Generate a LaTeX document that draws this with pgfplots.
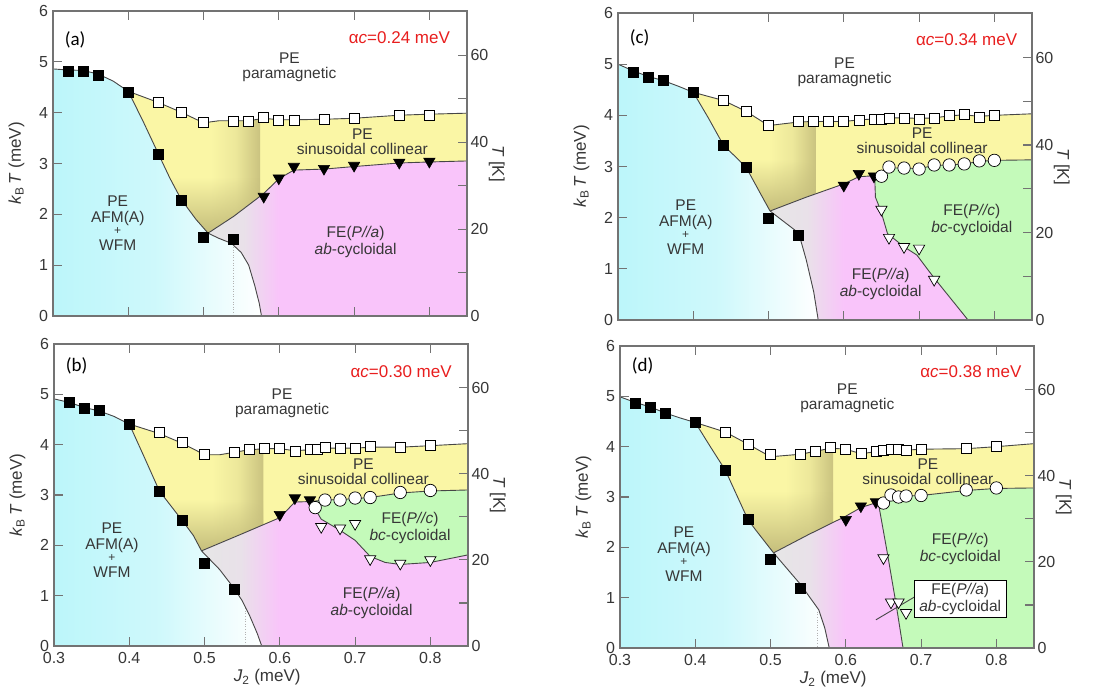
\documentclass[border=0pt]{standalone}
\usepackage{fontspec}
\setmainfont{Liberation Sans}
\newfontfamily\carl{Carlito}
\usepackage{pgfplots}
\pgfplotsset{compat=1.18}
\usetikzlibrary{fadings}
\definecolor{cyanC}{RGB}{188,246,250}
\definecolor{yelC}{RGB}{250,246,165}
\definecolor{oliveC}{RGB}{190,182,118}
\definecolor{pinkC}{RGB}{249,196,250}
\definecolor{greenC}{RGB}{196,250,186}
\definecolor{grayC}{RGB}{230,230,230}
\definecolor{lineC}{RGB}{70,70,70}
\definecolor{axisC}{RGB}{115,115,115}
\definecolor{textC}{RGB}{55,55,55}
\definecolor{redC}{RGB}{232,30,30}
\newcommand{\fr}{\fontsize{15.5}{15}\selectfont}
\newcommand{\ff}{\fontsize{15.5}{17}\selectfont}
\newcommand{\fl}{\fontsize{17}{20}\selectfont}
\pgfplotsset{
  base/.style={scale only axis, width=414pt, xmin=0.3, xmax=0.85, axis on top,
    axis line style={draw=axisC, line width=1.1pt, -}, tick style={draw=axisC, line width=1.1pt},
    major tick length=9pt, tick align=inside,
    tick label style={font=\fontsize{16}{18}\selectfont, text=textC},
    /pgf/number format/assume math mode=true},
  mainax/.style={base, ymin=0, ymax=6, ytick={0,1,2,3,4,5,6}, xtick={0.3,0.4,0.5,0.6,0.7,0.8},
    ytick pos=left, ylabel={\textit{k}\textsubscript{B}\,\textit{T} (meV)},
    xticklabel style={yshift=-2.5pt}, yticklabel style={xshift=-1.5pt},
    every axis y label/.style={at={(axis description cs:-0.088,0.5)}, rotate=90, anchor=center, font=\fl, text=textC},
    every axis x label/.style={at={(axis description cs:0.515,-0.103)}, anchor=center, font=\fl, text=textC}},
  rightax/.style={base, ymin=0, ymax=70.18, axis x line=none, axis y line*=right,
    ytick={0,10,...,60}, yticklabels={0,,20,,40,,60}, ylabel={\textit{T} [K]},
    every axis y label/.style={at={(axis description cs:1.072,0.5)}, rotate=-90, anchor=center, font=\fl, text=textC}},
  bline/.style={lineC, line width=0.9pt, mark=none},
  fs/.style={only marks, mark=square*, mark size=5pt, mark options={draw=black, fill=black, line width=0.6pt}},
  os/.style={only marks, mark=square*, mark size=5pt, mark options={draw=black, fill=white, line width=0.7pt}},
  ft/.style={only marks, mark=triangle*, mark size=6.5pt, mark options={rotate=180, draw=black, fill=black, line width=0.6pt}},
  ot/.style={only marks, mark=triangle*, mark size=6.5pt, mark options={rotate=180, draw=black, fill=white, line width=0.7pt}},
  oc/.style={only marks, mark=*, mark size=6.2pt, mark options={draw=black, fill=white, line width=0.7pt}},
  cyanfill/.style={draw=none, mark=none, left color=cyanC, right color=white, middle color=cyanC!72!white},
  bandfill/.style={draw=none, mark=none, left color=yelC, right color=oliveC!80!yelC, middle color=yelC!78!oliveC},
  fadefill/.style={draw=none, mark=none, fill=oliveC!88!yelC, path fading=north},
  grayfill/.style={draw=none, mark=none, left color=grayC, right color=pinkC, middle color=grayC!85!pinkC},
}
\begin{document}
\begin{tikzpicture}
\path[use as bounding box] (0pt,0pt) rectangle (1102pt,-692pt);
%================ (a)
\begin{axis}[mainax, height=305pt, at={(53pt,-316pt)}, anchor=south west, xticklabels={}]
\addplot[cyanfill] coordinates {(0.30,0)(0.30,4.86)(0.32,4.84)(0.34,4.83)(0.36,4.76)(0.38,4.62)(0.40,4.42)(0.42,3.82)(0.44,3.19)(0.455,2.72)(0.47,2.30)(0.49,1.90)(0.506,1.63)(0.52,1.53)(0.537,1.43)(0.55,1.25)(0.56,1.00)(0.568,0.60)(0.574,0.25)(0.577,0)};
\addplot[draw=none, fill=yelC] coordinates {(0.40,4.42)(0.44,4.20)(0.47,4.01)(0.50,3.80)(0.52,3.84)(0.54,3.84)(0.56,3.84)(0.58,3.89)(0.60,3.86)(0.62,3.86)(0.66,3.87)(0.70,3.89)(0.76,3.95)(0.80,3.97)(0.85,3.99)(0.85,3.05)(0.80,3.03)(0.76,3.01)(0.70,2.94)(0.66,2.89)(0.62,2.87)(0.60,2.70)(0.58,2.41)(0.54,1.96)(0.506,1.63)(0.49,1.90)(0.47,2.30)(0.455,2.72)(0.44,3.19)(0.42,3.82)};
\addplot[bandfill] coordinates {(0.51,3.82)(0.52,3.84)(0.54,3.84)(0.56,3.84)(0.575,3.875)(0.575,2.354)(0.54,1.96)(0.51,1.669)};
\addplot[fadefill] coordinates {(0.455,2.72)(0.47,2.30)(0.49,1.90)(0.506,1.63)(0.54,1.96)(0.575,2.354)(0.575,2.72)};
\addplot[draw=none, fill=pinkC] coordinates {(0.506,1.63)(0.54,1.96)(0.58,2.41)(0.60,2.70)(0.62,2.87)(0.66,2.89)(0.70,2.94)(0.76,3.01)(0.80,3.03)(0.85,3.05)(0.85,0)(0.577,0)(0.574,0.25)(0.568,0.60)(0.56,1.00)(0.55,1.25)(0.537,1.43)(0.52,1.53)};
\addplot[grayfill] coordinates {(0.506,1.63)(0.54,1.96)(0.58,2.41)(0.60,2.70)(0.60,0)(0.577,0)(0.574,0.25)(0.568,0.60)(0.56,1.00)(0.55,1.25)(0.537,1.43)(0.52,1.53)};
\addplot[gray!60, dotted, line width=0.6pt, mark=none] coordinates {(0.54,1.41)(0.54,0)};
\addplot[bline] coordinates {(0.30,4.86)(0.32,4.84)(0.34,4.83)(0.36,4.76)(0.38,4.62)(0.40,4.42)(0.44,4.20)(0.47,4.01)(0.50,3.80)(0.52,3.84)(0.54,3.84)(0.56,3.84)(0.58,3.89)(0.60,3.86)(0.62,3.86)(0.66,3.87)(0.70,3.89)(0.76,3.95)(0.80,3.97)(0.85,3.99)};
\addplot[bline] coordinates {(0.40,4.42)(0.42,3.82)(0.44,3.19)(0.455,2.72)(0.47,2.30)(0.49,1.90)(0.506,1.63)};
\addplot[bline] coordinates {(0.506,1.63)(0.54,1.96)(0.58,2.41)(0.60,2.70)(0.62,2.87)(0.66,2.89)(0.70,2.94)(0.76,3.01)(0.80,3.03)(0.85,3.05)};
\addplot[bline] coordinates {(0.506,1.63)(0.52,1.53)(0.537,1.43)(0.55,1.25)(0.56,1.00)(0.568,0.60)(0.574,0.25)(0.577,0)};
\addplot[fs] coordinates {(0.32,4.82)(0.34,4.82)(0.36,4.73)(0.40,4.41)(0.44,3.19)(0.47,2.28)(0.50,1.54)(0.54,1.51)};
\addplot[os] coordinates {(0.44,4.20)(0.47,4.01)(0.50,3.81)(0.54,3.82)(0.56,3.82)(0.58,3.91)(0.60,3.84)(0.62,3.84)(0.66,3.87)(0.70,3.89)(0.76,3.95)(0.80,3.95)};
\addplot[ft] coordinates {(0.58,2.35)(0.60,2.71)(0.62,2.94)(0.66,2.90)(0.70,2.96)(0.76,3.02)(0.80,3.04)};
\node[anchor=west, font=\carl\fontsize{19}{20}\selectfont] at (axis cs:0.311,5.43) {(a)};
\node[anchor=east, font=\fl, text=redC] at (axis cs:0.832,5.48) {α\textit{c}=0.24 meV};
\node[align=center, font=\fr, text=textC] at (axis cs:0.614,4.90) {PE\\paramagnetic};
\node[align=center, font=\fr, text=textC] at (axis cs:0.711,3.43) {PE\\sinusoidal collinear};
\node[align=center, font=\ff, text=textC] at (axis cs:0.386,1.82) {PE\\[-1pt]AFM(A)\\[-5pt]{\fontsize{12}{12}\selectfont +}\\[-1pt]WFM};
\node[align=center, font=\ff, text=textC] at (axis cs:0.702,1.46) {FE(\textit{P//a})\\\textit{ab}-cycloidal};
\end{axis}
\begin{axis}[rightax, height=305pt, at={(53pt,-316pt)}, anchor=south west]
\end{axis}
%================ (b)
\begin{axis}[mainax, height=302pt, at={(54pt,-646pt)}, anchor=south west, xlabel={\textit{J}\textsubscript{2} (meV)}]
\addplot[cyanfill] coordinates {(0.30,0)(0.30,4.91)(0.32,4.84)(0.34,4.74)(0.36,4.67)(0.38,4.56)(0.40,4.41)(0.42,3.75)(0.44,3.08)(0.47,2.50)(0.485,2.20)(0.496,1.89)(0.52,1.52)(0.54,1.13)(0.55,0.90)(0.56,0.60)(0.57,0.25)(0.576,0)};
\addplot[draw=none, fill=yelC] coordinates {(0.40,4.41)(0.44,4.22)(0.47,4.03)(0.50,3.80)(0.52,3.80)(0.54,3.85)(0.56,3.90)(0.58,3.92)(0.60,3.92)(0.62,3.88)(0.64,3.90)(0.66,3.93)(0.70,3.93)(0.72,3.95)(0.76,3.95)(0.80,3.98)(0.85,4.02)(0.85,3.10)(0.80,3.08)(0.76,3.04)(0.72,2.95)(0.70,2.93)(0.68,2.91)(0.66,2.90)(0.64,2.87)(0.62,2.86)(0.60,2.55)(0.55,2.23)(0.496,1.89)(0.485,2.20)(0.47,2.50)(0.44,3.08)(0.42,3.75)};
\addplot[bandfill] coordinates {(0.51,3.80)(0.52,3.80)(0.54,3.85)(0.56,3.90)(0.578,3.918)(0.578,2.409)(0.55,2.23)(0.51,1.978)};
\addplot[fadefill] coordinates {(0.449,2.9)(0.47,2.50)(0.485,2.20)(0.496,1.89)(0.55,2.23)(0.578,2.409)(0.578,2.9)};
\addplot[draw=none, fill=pinkC] coordinates {(0.496,1.89)(0.55,2.23)(0.60,2.55)(0.62,2.86)(0.64,2.87)(0.647,2.72)(0.655,2.52)(0.68,2.30)(0.70,2.10)(0.72,1.78)(0.74,1.66)(0.76,1.62)(0.80,1.66)(0.85,1.81)(0.85,0)(0.576,0)(0.57,0.25)(0.56,0.60)(0.55,0.90)(0.54,1.13)(0.52,1.52)};
\addplot[draw=none, fill=greenC] coordinates {(0.64,2.87)(0.66,2.90)(0.68,2.91)(0.70,2.93)(0.72,2.95)(0.76,3.04)(0.80,3.08)(0.85,3.10)(0.85,1.81)(0.80,1.66)(0.76,1.62)(0.74,1.66)(0.72,1.78)(0.70,2.10)(0.68,2.30)(0.655,2.52)(0.647,2.72)};
\addplot[grayfill] coordinates {(0.496,1.89)(0.55,2.23)(0.60,2.55)(0.60,0)(0.576,0)(0.57,0.25)(0.56,0.60)(0.55,0.90)(0.54,1.13)(0.52,1.52)};
\addplot[gray!60, dotted, line width=0.6pt, mark=none] coordinates {(0.554,0.75)(0.554,0)};
\addplot[bline] coordinates {(0.30,4.91)(0.32,4.84)(0.34,4.74)(0.36,4.67)(0.38,4.56)(0.40,4.41)(0.44,4.22)(0.47,4.03)(0.50,3.80)(0.52,3.80)(0.54,3.85)(0.56,3.90)(0.58,3.92)(0.60,3.92)(0.62,3.88)(0.64,3.90)(0.66,3.93)(0.70,3.93)(0.72,3.95)(0.76,3.95)(0.80,3.98)(0.85,4.02)};
\addplot[bline] coordinates {(0.40,4.41)(0.42,3.75)(0.44,3.08)(0.47,2.50)(0.485,2.20)(0.496,1.89)};
\addplot[bline] coordinates {(0.496,1.89)(0.55,2.23)(0.60,2.55)(0.62,2.86)(0.64,2.87)(0.66,2.90)(0.68,2.91)(0.70,2.93)(0.72,2.95)(0.76,3.04)(0.80,3.08)(0.85,3.10)};
\addplot[bline] coordinates {(0.64,2.87)(0.647,2.72)(0.655,2.52)(0.68,2.30)(0.70,2.10)(0.72,1.78)(0.74,1.66)(0.76,1.62)(0.80,1.66)(0.85,1.81)};
\addplot[bline] coordinates {(0.496,1.89)(0.52,1.52)(0.54,1.13)(0.55,0.90)(0.56,0.60)(0.57,0.25)(0.576,0)};
\addplot[fs] coordinates {(0.32,4.84)(0.34,4.73)(0.36,4.68)(0.40,4.41)(0.44,3.08)(0.47,2.50)(0.50,1.64)(0.54,1.13)};
\addplot[os] coordinates {(0.44,4.25)(0.47,4.05)(0.50,3.80)(0.54,3.85)(0.56,3.91)(0.58,3.93)(0.60,3.93)(0.62,3.87)(0.64,3.90)(0.65,3.91)(0.66,3.95)(0.68,3.92)(0.70,3.93)(0.72,3.96)(0.76,3.95)(0.80,3.98)};
\addplot[ft] coordinates {(0.60,2.61)(0.62,2.94)(0.64,2.90)};
\addplot[ot] coordinates {(0.655,2.37)(0.68,2.34)(0.70,2.43)(0.72,1.73)(0.76,1.64)(0.80,1.71)};
\addplot[oc] coordinates {(0.647,2.75)(0.66,2.90)(0.68,2.90)(0.70,2.94)(0.72,2.95)(0.76,3.05)(0.80,3.09)};
\node[anchor=west, font=\carl\fontsize{19}{20}\selectfont] at (axis cs:0.311,5.56) {(b)};
\node[anchor=east, font=\fl, text=redC] at (axis cs:0.833,5.46) {α\textit{c}=0.30 meV};
\node[align=center, font=\fr, text=textC] at (axis cs:0.603,4.83) {PE\\paramagnetic};
\node[align=center, font=\fr, text=textC] at (axis cs:0.711,3.47) {PE\\sinusoidal collinear};
\node[align=center, font=\ff, text=textC] at (axis cs:0.377,1.91) {PE\\[-1pt]AFM(A)\\[-5pt]{\fontsize{12}{12}\selectfont +}\\[-1pt]WFM};
\node[align=center, font=\ff, text=textC] at (axis cs:0.773,2.34) {FE(\textit{P//c})\\\textit{bc}-cycloidal};
\node[align=center, font=\ff, text=textC] at (axis cs:0.722,0.85) {FE(\textit{P//a})\\\textit{ab}-cycloidal};
\end{axis}
\begin{axis}[rightax, height=302pt, at={(54pt,-646pt)}, anchor=south west]
\end{axis}
%================ (c)
\begin{axis}[mainax, height=307pt, at={(618pt,-320pt)}, anchor=south west, xticklabels={}]
\addplot[cyanfill] coordinates {(0.30,0)(0.30,5.00)(0.32,4.87)(0.34,4.76)(0.36,4.68)(0.38,4.57)(0.40,4.45)(0.42,3.95)(0.44,3.42)(0.47,2.99)(0.49,2.45)(0.502,2.13)(0.54,1.70)(0.55,1.18)(0.56,0.55)(0.566,0)};
\addplot[draw=none, fill=yelC] coordinates {(0.40,4.45)(0.44,4.29)(0.47,4.08)(0.50,3.80)(0.54,3.87)(0.56,3.88)(0.58,3.88)(0.60,3.88)(0.62,3.91)(0.64,3.93)(0.66,3.95)(0.68,3.95)(0.70,3.94)(0.72,3.95)(0.74,3.99)(0.76,4.01)(0.78,3.98)(0.80,4.00)(0.85,4.03)(0.85,3.13)(0.80,3.12)(0.78,3.10)(0.76,3.05)(0.74,3.03)(0.72,3.02)(0.70,2.96)(0.68,2.97)(0.66,2.97)(0.65,2.86)(0.641,2.82)(0.62,2.80)(0.60,2.66)(0.55,2.40)(0.502,2.13)(0.49,2.45)(0.47,2.99)(0.44,3.42)(0.42,3.95)};
\addplot[bandfill] coordinates {(0.50,3.80)(0.54,3.87)(0.56,3.88)(0.563,3.88)(0.563,2.468)(0.55,2.40)(0.502,2.13)(0.50,2.183)};
\addplot[fadefill] coordinates {(0.46,3.13)(0.47,2.99)(0.49,2.45)(0.502,2.13)(0.55,2.40)(0.563,2.468)(0.563,3.13)};
\addplot[draw=none, fill=pinkC] coordinates {(0.502,2.13)(0.55,2.40)(0.60,2.66)(0.62,2.80)(0.641,2.82)(0.642,2.40)(0.649,2.14)(0.658,1.69)(0.68,1.43)(0.697,1.27)(0.719,0.84)(0.765,0)(0.566,0)(0.56,0.55)(0.55,1.18)(0.54,1.70)};
\addplot[draw=none, fill=greenC] coordinates {(0.641,2.82)(0.65,2.86)(0.66,2.97)(0.68,2.97)(0.70,2.96)(0.72,3.02)(0.74,3.03)(0.76,3.05)(0.78,3.10)(0.80,3.12)(0.85,3.13)(0.85,0)(0.765,0)(0.719,0.84)(0.697,1.27)(0.68,1.43)(0.658,1.69)(0.649,2.14)(0.642,2.40)};
\addplot[grayfill] coordinates {(0.502,2.13)(0.55,2.40)(0.60,2.66)(0.60,0)(0.566,0)(0.56,0.55)(0.55,1.18)(0.54,1.70)};
\addplot[bline] coordinates {(0.30,5.00)(0.32,4.87)(0.34,4.76)(0.36,4.68)(0.38,4.57)(0.40,4.45)(0.44,4.29)(0.47,4.08)(0.50,3.80)(0.54,3.87)(0.56,3.88)(0.58,3.88)(0.60,3.88)(0.62,3.91)(0.64,3.93)(0.66,3.95)(0.68,3.95)(0.70,3.94)(0.72,3.95)(0.74,3.99)(0.76,4.01)(0.78,3.98)(0.80,4.00)(0.85,4.03)};
\addplot[bline] coordinates {(0.40,4.45)(0.42,3.95)(0.44,3.42)(0.47,2.99)(0.49,2.45)(0.502,2.13)};
\addplot[bline] coordinates {(0.502,2.13)(0.55,2.40)(0.60,2.66)(0.62,2.80)(0.641,2.82)(0.65,2.86)(0.66,2.97)(0.68,2.97)(0.70,2.96)(0.72,3.02)(0.74,3.03)(0.76,3.05)(0.78,3.10)(0.80,3.12)(0.85,3.13)};
\addplot[bline] coordinates {(0.641,2.82)(0.642,2.40)(0.649,2.14)(0.658,1.69)(0.68,1.43)(0.697,1.27)(0.719,0.84)(0.765,0)};
\addplot[bline] coordinates {(0.502,2.13)(0.54,1.70)(0.55,1.18)(0.56,0.55)(0.566,0)};
\addplot[fs] coordinates {(0.32,4.85)(0.34,4.74)(0.36,4.68)(0.40,4.45)(0.44,3.42)(0.47,2.99)(0.50,1.99)(0.54,1.66)};
\addplot[os] coordinates {(0.44,4.29)(0.47,4.08)(0.50,3.80)(0.54,3.88)(0.56,3.88)(0.58,3.88)(0.60,3.88)(0.62,3.91)(0.64,3.93)(0.65,3.93)(0.66,3.95)(0.68,3.95)(0.70,3.93)(0.72,3.95)(0.74,3.99)(0.76,4.01)(0.78,3.97)(0.80,4.00)};
\addplot[ft] coordinates {(0.60,2.63)(0.62,2.86)(0.64,2.81)};
\addplot[ot] coordinates {(0.65,2.16)(0.66,1.61)(0.68,1.43)(0.70,1.40)(0.72,0.79)};
\addplot[oc] coordinates {(0.65,2.81)(0.66,2.99)(0.68,2.97)(0.70,2.95)(0.72,3.03)(0.74,3.03)(0.76,3.05)(0.78,3.11)(0.80,3.12)};
\node[anchor=west, font=\carl\fontsize{19}{20}\selectfont] at (axis cs:0.311,5.52) {(c)};
\node[anchor=east, font=\fl, text=redC] at (axis cs:0.835,5.47) {α\textit{c}=0.34 meV};
\node[align=center, font=\fr, text=textC] at (axis cs:0.601,4.84) {PE\\paramagnetic};
\node[align=center, font=\fr, text=textC] at (axis cs:0.704,3.51) {PE\\sinusoidal collinear};
\node[align=center, font=\ff, text=textC] at (axis cs:0.39,1.82) {PE\\[-1pt]AFM(A)\\[-5pt]{\fontsize{12}{12}\selectfont +}\\[-1pt]WFM};
\node[align=center, font=\ff, text=textC] at (axis cs:0.77,1.95) {FE(\textit{P//c})\\\textit{bc}-cycloidal};
\node[align=center, font=\ff, text=textC] at (axis cs:0.649,0.71) {FE(\textit{P//a})\\\textit{ab}-cycloidal};
\end{axis}
\begin{axis}[rightax, height=307pt, at={(618pt,-320pt)}, anchor=south west]
\end{axis}
%================ (d)
\begin{axis}[mainax, height=302pt, at={(620pt,-648pt)}, anchor=south west, xlabel={\textit{J}\textsubscript{2} (meV)}]
\addplot[cyanfill] coordinates {(0.30,0)(0.30,4.99)(0.32,4.88)(0.34,4.79)(0.36,4.67)(0.38,4.57)(0.40,4.48)(0.42,4.00)(0.44,3.53)(0.47,2.55)(0.48,2.35)(0.504,1.89)(0.54,1.26)(0.564,0.76)(0.572,0.40)(0.578,0)};
\addplot[draw=none, fill=yelC] coordinates {(0.40,4.48)(0.44,4.29)(0.47,4.05)(0.50,3.80)(0.54,3.85)(0.56,3.91)(0.58,3.97)(0.60,3.95)(0.62,3.86)(0.64,3.90)(0.66,3.94)(0.68,3.93)(0.70,3.95)(0.76,3.96)(0.80,4.00)(0.85,4.06)(0.85,3.18)(0.80,3.17)(0.76,3.13)(0.70,3.03)(0.68,3.02)(0.66,3.00)(0.643,2.90)(0.62,2.79)(0.60,2.62)(0.55,2.25)(0.504,1.89)(0.48,2.35)(0.47,2.55)(0.44,3.53)(0.42,4.00)};
\addplot[bandfill] coordinates {(0.52,3.825)(0.54,3.85)(0.56,3.91)(0.58,3.97)(0.583,3.967)(0.583,2.494)(0.55,2.25)(0.52,2.015)};
\addplot[fadefill] coordinates {(0.452,3.1)(0.47,2.55)(0.48,2.35)(0.504,1.89)(0.55,2.25)(0.583,2.494)(0.583,3.1)};
\addplot[draw=none, fill=pinkC] coordinates {(0.504,1.89)(0.55,2.25)(0.60,2.62)(0.62,2.79)(0.643,2.90)(0.655,1.90)(0.667,0.85)(0.676,0)(0.578,0)(0.572,0.40)(0.564,0.76)(0.54,1.26)};
\addplot[draw=none, fill=greenC] coordinates {(0.643,2.90)(0.66,3.00)(0.68,3.02)(0.70,3.03)(0.76,3.13)(0.80,3.17)(0.85,3.18)(0.85,0)(0.676,0)(0.667,0.85)(0.655,1.90)};
\addplot[grayfill] coordinates {(0.504,1.89)(0.55,2.25)(0.60,2.62)(0.60,0)(0.578,0)(0.572,0.40)(0.564,0.76)(0.54,1.26)};
\addplot[gray!60, dotted, line width=0.6pt, mark=none] coordinates {(0.562,0.72)(0.562,0)};
\addplot[bline] coordinates {(0.30,4.99)(0.32,4.88)(0.34,4.79)(0.36,4.67)(0.38,4.57)(0.40,4.48)(0.44,4.29)(0.47,4.05)(0.50,3.80)(0.54,3.85)(0.56,3.91)(0.58,3.97)(0.60,3.95)(0.62,3.86)(0.64,3.90)(0.66,3.94)(0.68,3.93)(0.70,3.95)(0.76,3.96)(0.80,4.00)(0.85,4.06)};
\addplot[bline] coordinates {(0.40,4.48)(0.42,4.00)(0.44,3.53)(0.47,2.55)(0.48,2.35)(0.504,1.89)};
\addplot[bline] coordinates {(0.504,1.89)(0.55,2.25)(0.60,2.62)(0.62,2.79)(0.643,2.90)(0.66,3.00)(0.68,3.02)(0.70,3.03)(0.76,3.13)(0.80,3.17)(0.85,3.18)};
\addplot[bline] coordinates {(0.643,2.90)(0.655,1.90)(0.667,0.85)(0.676,0)};
\addplot[bline] coordinates {(0.504,1.89)(0.54,1.26)(0.564,0.76)(0.572,0.40)(0.578,0)};
\addplot[fs] coordinates {(0.32,4.87)(0.34,4.79)(0.36,4.66)(0.40,4.48)(0.44,3.53)(0.47,2.55)(0.50,1.77)(0.54,1.19)};
\addplot[os] coordinates {(0.44,4.29)(0.47,4.05)(0.50,3.85)(0.54,3.85)(0.56,3.91)(0.58,3.98)(0.60,3.95)(0.62,3.86)(0.64,3.90)(0.65,3.93)(0.66,3.95)(0.67,3.95)(0.68,3.93)(0.70,3.95)(0.76,3.96)(0.80,4.00)};
\addplot[ft] coordinates {(0.60,2.55)(0.62,2.82)(0.64,2.90)};
\addplot[ot] coordinates {(0.65,1.79)(0.66,0.91)(0.67,0.91)(0.68,0.70)};
\addplot[oc] coordinates {(0.65,2.88)(0.66,3.04)(0.67,3.00)(0.68,3.02)(0.70,3.03)(0.76,3.14)(0.80,3.18)};
\addplot[lineC, line width=0.9pt, mark=none] coordinates {(0.64,0.56)(0.693,1.03)};
\node[anchor=west, font=\carl\fontsize{19}{20}\selectfont] at (axis cs:0.311,5.60) {(d)};
\node[anchor=east, font=\fl, text=redC] at (axis cs:0.838,5.50) {α\textit{c}=0.38 meV};
\node[align=center, font=\fr, text=textC] at (axis cs:0.602,4.97) {PE\\paramagnetic};
\node[align=center, font=\fr, text=textC] at (axis cs:0.709,3.51) {PE\\sinusoidal collinear};
\node[align=center, font=\ff, text=textC] at (axis cs:0.385,1.86) {PE\\[-1pt]AFM(A)\\[-5pt]{\fontsize{12}{12}\selectfont +}\\[-1pt]WFM};
\node[align=center, font=\ff, text=textC] at (axis cs:0.752,1.96) {FE(\textit{P//c})\\\textit{bc}-cycloidal};
\node[align=center, font=\ff, text=textC, draw=black, line width=1pt, fill=white, inner xsep=5pt, inner ysep=3pt] at (axis cs:0.752,0.975) {FE(\textit{P//a})\\\textit{ab}-cycloidal};
\end{axis}
\begin{axis}[rightax, height=302pt, at={(620pt,-648pt)}, anchor=south west]
\end{axis}
\end{tikzpicture}
\end{document}
